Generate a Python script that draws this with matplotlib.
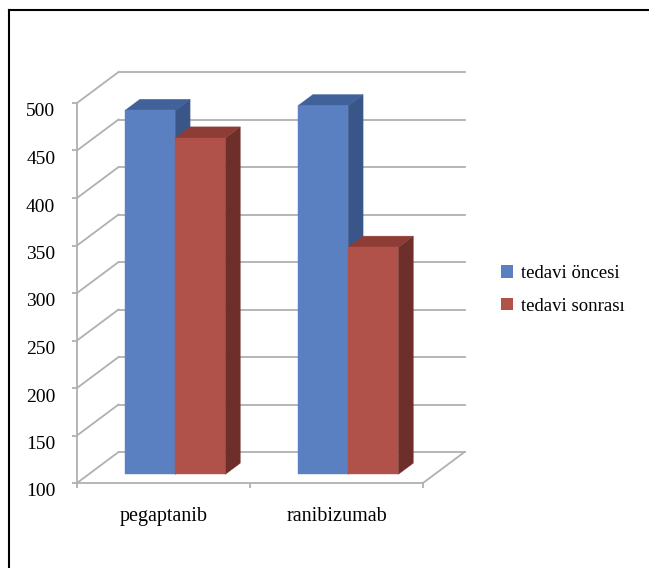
import numpy as np
import matplotlib
matplotlib.use("Agg")
import matplotlib.pyplot as plt
import matplotlib.transforms as mtransforms
from matplotlib.patches import Polygon, Patch
from matplotlib.lines import Line2D

plt.rcParams['font.family'] = ['Liberation Serif', 'DejaVu Serif']

# ---- data ----
categories = ['pegaptanib', 'ranibizumab']
series_names = ['tedavi öncesi', 'tedavi sonrası']
oncesi = [483, 488]
sonrasi = [454, 339]
yticks = [100, 150, 200, 250, 300, 350, 400, 450, 500]

# ---- pseudo-3D style ----
front_cols = ['#5b80c2', '#b0524a']
top_cols = ['#40619a', '#8e3c36']
side_cols = ['#3a5688', '#6e2f2b']
grid_col = '#b0b0b0'

# depth offset of the back wall in data units (category, value)
DX = 0.24
DY = 32.6
d_front, d_back = 0.28, 0.64
bar_w = 0.29
base = 100


def proj(x, v, d):
    return (x + d * DX, v + d * DY)


fig = plt.figure(figsize=(6.49, 5.68), dpi=100)
ax = fig.add_axes([77 / 649, 85 / 568, 346 / 649, 380 / 568])
ax.set_xlim(0, len(categories))
ax.set_ylim(yticks[0], yticks[-1])

# walls
for v in yticks:
    p0, p1 = proj(0, v, 1), proj(len(categories), v, 1)
    ax.plot([p0[0], p1[0]], [p0[1], p1[1]], color=grid_col, lw=1.3,
            clip_on=False, zorder=1)
    q0, q1 = proj(0, v, 0), proj(0, v, 1)
    ax.plot([q0[0], q1[0]], [q0[1], q1[1]], color=grid_col, lw=1.3,
            clip_on=False, zorder=1)
r0, r1 = proj(len(categories), base, 0), proj(len(categories), base, 1)
ax.plot([r0[0], r1[0]], [r0[1], r1[1]], color=grid_col, lw=1.3,
        clip_on=False, zorder=1)

# bars
for i, cat in enumerate(categories):
    for s, vals in enumerate([oncesi, sonrasi]):
        v = vals[i]
        x0 = i + 0.5 - bar_w + s * bar_w
        x1 = x0 + bar_w
        front = [proj(x0, base, d_front), proj(x1, base, d_front),
                 proj(x1, v, d_front), proj(x0, v, d_front)]
        top = [proj(x0, v, d_front), proj(x1, v, d_front),
               proj(x1, v, d_back), proj(x0, v, d_back)]
        side = [proj(x1, base, d_front), proj(x1, v, d_front),
                proj(x1, v, d_back), proj(x1, base, d_back)]
        z = 3 + i * 3 + s
        for pts, c in [(side, side_cols[s]), (top, top_cols[s]), (front, front_cols[s])]:
            ax.add_patch(Polygon(pts, closed=True, facecolor=c, edgecolor=c,
                                 lw=0.3, clip_on=False, zorder=z))

# axes
for sp in ['top', 'right']:
    ax.spines[sp].set_visible(False)
for sp in ['left', 'bottom']:
    ax.spines[sp].set_color(grid_col)
    ax.spines[sp].set_linewidth(1.3)
ax.set_facecolor('none')
ax.set_yticks(yticks)
ax.set_yticklabels([str(t) for t in yticks])
ax.tick_params(axis='y', length=3.6, width=1.3, color=grid_col, pad=12,
               labelsize=14, labelcolor='black')
# labels sit a little below their ticks in the original
shift = mtransforms.ScaledTranslation(0, -7 / 100, fig.dpi_scale_trans)
for lab in ax.get_yticklabels():
    lab.set_transform(lab.get_transform() + shift)
ax.set_xticks(range(len(categories) + 1))
ax.set_xticklabels([])
ax.tick_params(axis='x', which='major', length=3.6, width=1.3, color=grid_col)
ax.set_xticks([i + 0.5 for i in range(len(categories))], minor=True)
ax.set_xticklabels(categories, minor=True)
ax.tick_params(axis='x', which='minor', length=0, pad=17, labelsize=14.5)

# legend
handles = [Patch(facecolor=front_cols[k], edgecolor='none', label=series_names[k])
           for k in range(2)]
fig.legend(handles=handles, loc='center left',
           bbox_to_anchor=(492 / 649, 1 - 290 / 568), frameon=False,
           fontsize=13.5, handlelength=0.62, handleheight=0.62,
           handletextpad=0.45, labelspacing=0.85, borderpad=0)

# outer frame (top and left only)
fig.add_artist(Line2D([9 / 649, 9 / 649], [0, 1 - 10 / 568], color='black', lw=1.5))
fig.add_artist(Line2D([9 / 649, 1], [1 - 10 / 568, 1 - 10 / 568], color='black', lw=1.5))

fig.savefig('out.png', dpi=100)
